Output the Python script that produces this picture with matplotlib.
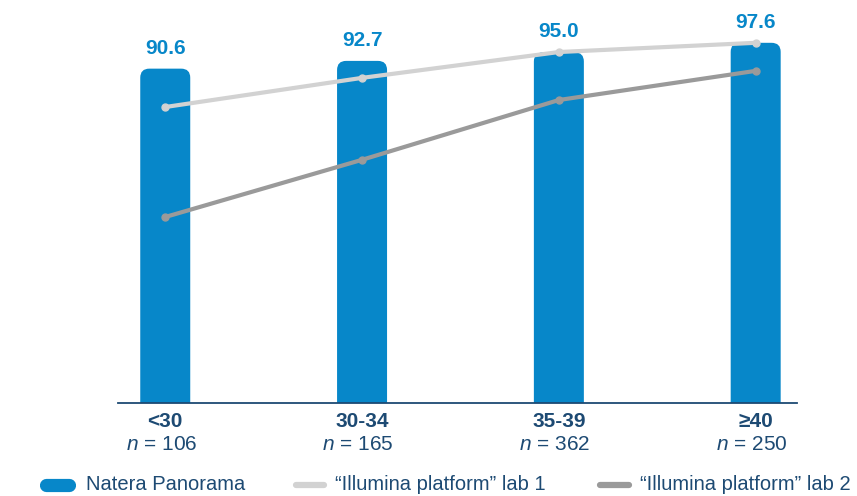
import matplotlib
matplotlib.use("Agg")
import matplotlib.pyplot as plt
from matplotlib.patches import FancyBboxPatch
from matplotlib.lines import Line2D

plt.rcParams['font.family'] = ['Liberation Sans', 'DejaVu Sans']
plt.rcParams['mathtext.fontset'] = 'custom'
plt.rcParams['mathtext.it'] = 'Liberation Sans:italic'
plt.rcParams['mathtext.rm'] = 'Liberation Sans'

age_groups = ['<30', '30-34', '35-39', '≥40']
n_counts = [106, 165, 362, 250]
panorama = [90.6, 92.7, 95.0, 97.6]
lab1 = [80.2, 88.1, 95.1, 97.6]
lab2 = [50.4, 65.9, 82.1, 90.0]
legend_labels = ['Natera Panorama', '\u201cIllumina platform\u201d lab 1',
                 '\u201cIllumina platform\u201d lab 2']

BLUE = '#0787c9'
NAVY = '#1d4a73'
LIGHT_GRAY = '#d2d2d2'
DARK_GRAY = '#9a9a9a'

W, H = 857, 496
fig = plt.figure(figsize=(W / 100, H / 100), dpi=100)
ax = fig.add_axes([0.1377, 0.1875, 0.7923, 0.8125])
x = list(range(len(age_groups)))
ax.set_xlim(-0.24, 3.21)
ax.set_ylim(0, 109.2)

bars = ax.bar(x, panorama, width=0.254, color=BLUE)

# swap the plain rectangles for ones with rounded top corners
p0 = ax.transData.transform((0, 0))
p1 = ax.transData.transform((1, 1))
aspect = (p1[0] - p0[0]) / (p1[1] - p0[1])
for rect in bars:
    rect.set_visible(False)
    bx, bw, bh = rect.get_x(), rect.get_width(), rect.get_height()
    ax.add_patch(FancyBboxPatch((bx, -10), bw, bh + 10,
                                boxstyle='round,pad=0,rounding_size=0.046',
                                mutation_aspect=aspect, fc=BLUE, ec='none', zorder=2))

for xi, v in zip(x, panorama):
    ax.annotate(f'{v:.1f}', (xi, v), xytext=(0, 8), textcoords='offset points',
                ha='center', va='bottom', fontsize=15, fontweight='bold', color=BLUE)

ax.plot(x, lab1, color=LIGHT_GRAY, lw=3, marker='o', ms=5, zorder=3)
ax.plot(x, lab2, color=DARK_GRAY, lw=3, marker='o', ms=5, zorder=3)

for s in ['top', 'right', 'left']:
    ax.spines[s].set_visible(False)
ax.spines['bottom'].set_color(NAVY)
ax.spines['bottom'].set_linewidth(1.3)
ax.set_yticks([])
ax.set_xticks([])

trans = ax.get_xaxis_transform()
for xi, g, n in zip(x, age_groups, n_counts):
    ax.text(xi, -0.045, g, transform=trans, ha='center', va='center',
            fontsize=15, fontweight='bold', color=NAVY)
    ax.text(xi - 0.02, -0.102, f'$n$ = {n}', transform=trans, ha='center', va='center',
            fontsize=15, color=NAVY)

# legend drawn by hand so each key can have its own length
legend_y = 1 - 485 / H
keys = [(46, 69, BLUE, 9.5), (296, 324, LIGHT_GRAY, 4.5), (600, 629, DARK_GRAY, 4.5)]
text_x = [86, 335, 640]
for (x0, x1, c, lw), tx, lab in zip(keys, text_x, legend_labels):
    fig.add_artist(Line2D([x0 / W, x1 / W], [legend_y, legend_y], color=c, lw=lw,
                          solid_capstyle='round', transform=fig.transFigure))
    fig.text(tx / W, legend_y, lab, ha='left', va='center', fontsize=14.5, color=NAVY)

fig.savefig('out.png', dpi=100)
